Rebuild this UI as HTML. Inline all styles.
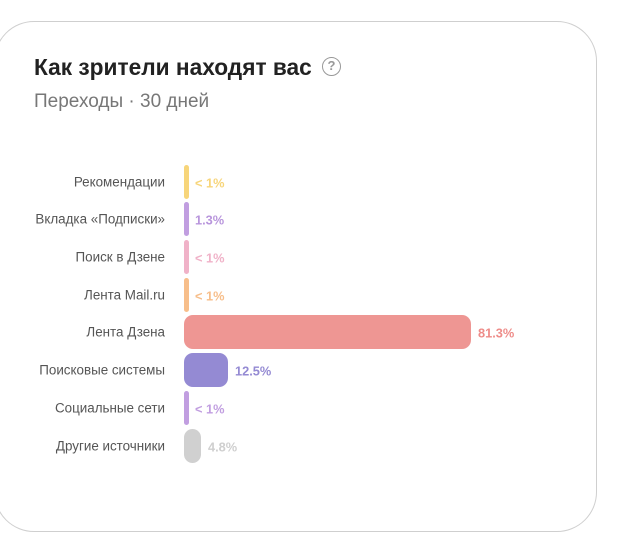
<!DOCTYPE html>
<html><head><meta charset="utf-8"><style>
body{margin:0;width:617px;height:543px;background:#fff;overflow:hidden;position:relative;font-family:"Liberation Sans","DejaVu Sans",sans-serif}
.card{position:absolute;left:-6px;top:21px;width:603px;height:511px;border:1px solid #cfcfcf;border-radius:40px;box-sizing:border-box}
.t{position:absolute;left:34px;top:54px;font-size:22.7px;font-weight:bold;color:#222}
.q{position:absolute;left:322px;top:57px;width:19px;height:19px;border:1.6px solid #999;border-radius:50%;box-sizing:border-box;font-size:13px;color:#999;text-align:center;line-height:16px;font-weight:bold}
.s{position:absolute;left:34px;top:91px;font-size:19px;color:#777}
.l{position:absolute;right:452px;font-size:13.4px;color:#555;white-space:nowrap;transform:translateY(-50%)}
.b{position:absolute;left:184px;height:34px;transform:translateY(-50%);border-radius:3px}
.v{position:absolute;font-size:12.8px;font-weight:bold;transform:translateY(-50%);white-space:nowrap}
</style></head><body>
<div class="card"></div>
<div class="t">Как зрители находят вас</div>
<div class="q">?</div>
<div class="s">Переходы · 30 дней</div>

<div class="l" style="top:182px">Рекомендации</div>
<div class="b" style="top:182px;width:5px;background:#f7d57a"></div>
<div class="v" style="top:183px;left:195px;color:#f7d57a">&lt; 1%</div>

<div class="l" style="top:219px">Вкладка «Подписки»</div>
<div class="b" style="top:219px;width:5px;background:#c19ee0"></div>
<div class="v" style="top:220px;left:195px;color:#b895dc">1.3%</div>

<div class="l" style="top:257px">Поиск в Дзене</div>
<div class="b" style="top:257px;width:5px;background:#f0b2c8"></div>
<div class="v" style="top:258px;left:195px;color:#f0b2c8">&lt; 1%</div>

<div class="l" style="top:295px">Лента Mail.ru</div>
<div class="b" style="top:295px;width:5px;background:#f7be8a"></div>
<div class="v" style="top:296px;left:195px;color:#f7be8a">&lt; 1%</div>

<div class="l" style="top:332px">Лента Дзена</div>
<div class="b" style="top:332px;width:287px;background:#ee9693;border-radius:9px"></div>
<div class="v" style="top:333px;left:478px;color:#ee8c89">81.3%</div>

<div class="l" style="top:370px">Поисковые системы</div>
<div class="b" style="top:370px;width:44px;background:#948ad3;border-radius:9px"></div>
<div class="v" style="top:371px;left:235px;color:#948ad3">12.5%</div>

<div class="l" style="top:408px">Социальные сети</div>
<div class="b" style="top:408px;width:5px;background:#c19ee0"></div>
<div class="v" style="top:409px;left:195px;color:#c19ee0">&lt; 1%</div>

<div class="l" style="top:446px">Другие источники</div>
<div class="b" style="top:446px;width:17px;background:#d0d0d0;border-radius:9px"></div>
<div class="v" style="top:447px;left:208px;color:#cfcfcf">4.8%</div>
</body></html>
